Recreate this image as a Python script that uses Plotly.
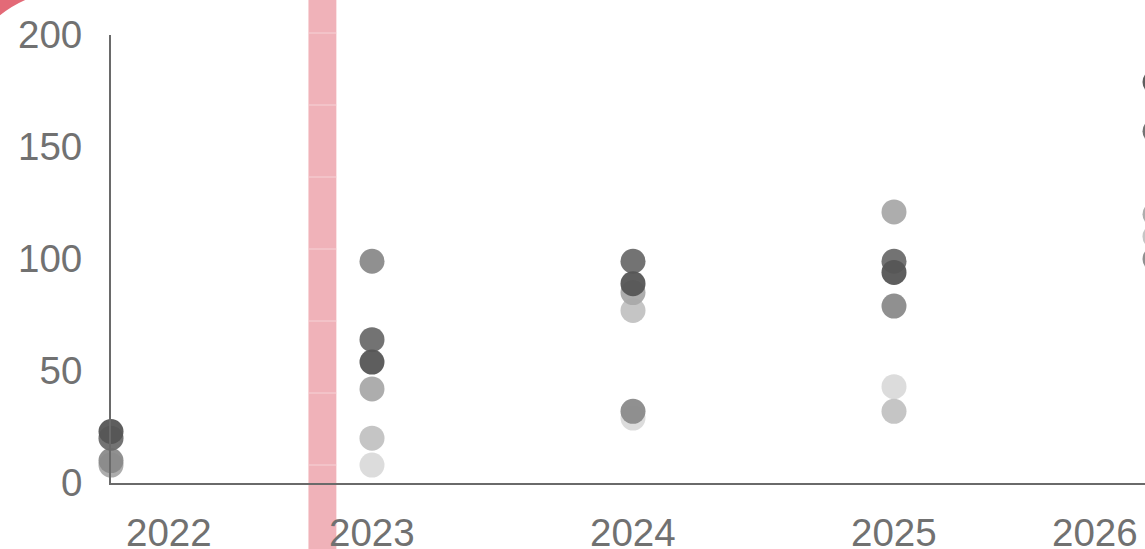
import plotly.graph_objects as go

# ---- data ----
years = [2022, 2023, 2024, 2025, 2026]
tick_labels = ["2022", "2023", "2024", "2025", "2026"]
y_ticks = [0, 50, 100, 150, 200]

series_a = [23, 54, 89, 94, 179]     # darkest
series_b = [20, 64, 99, 99, 157]
series_c = [10, 99, 32, 79, 100]
series_d = [8, 42, 85, 121, 120]
series_e = [None, 20, 77, 32, 110]
series_f = [None, 8, 29, 43, None]   # lightest

highlight_year = 2022.81
highlight_width = 0.107

# ---- layout geometry ----
W, H = 1185, 549          # figure is wider than the window; the window crops it
ML, MR, MT, MB = 111, 0, 35, 66
PX_PER_YEAR = 261.0
XMIN = 2022
XMAX = XMIN + (W - ML - MR) / PX_PER_YEAR
PLOT_H = H - MT - MB
PLOT_W = W - ML - MR

def px_to_paper_x(px):
    return (px - ML) / PLOT_W

def py_to_paper_y(py):
    return (H - MB - py) / PLOT_H

series = [
    (series_f, "#dadada"),
    (series_e, "#c2c2c2"),
    (series_d, "#a9a9a9"),
    (series_c, "#8a8a8a"),
    (series_b, "#6c6c6c"),
    (series_a, "#555555"),
]

FONT = "Liberation Sans, Arial, sans-serif"
TXT = "#717171"

fig = go.Figure()
for vals, col in series:
    fig.add_trace(go.Scatter(
        x=years, y=vals, mode="markers",
        marker=dict(size=25, color=col, opacity=0.95, line=dict(width=0)),
        cliponaxis=False, showlegend=False, hoverinfo="skip",
    ))

shapes = []
# pink vertical band
shapes.append(dict(type="rect", xref="x", yref="paper",
                   x0=highlight_year - highlight_width / 2, x1=highlight_year + highlight_width / 2,
                   y0=py_to_paper_y(H + 5), y1=py_to_paper_y(-5),
                   fillcolor="#f0b2b9", line=dict(width=0), layer="below"))
# faint light lines across the band
for py in [33, 105, 177, 249, 321, 393, 465]:
    shapes.append(dict(type="line", xref="x", yref="paper",
                       x0=highlight_year - highlight_width / 2, x1=highlight_year + highlight_width / 2,
                       y0=py_to_paper_y(py), y1=py_to_paper_y(py),
                       line=dict(color="#f6d3d7", width=1), layer="below"))
# red corner
p = lambda x, y: f"{px_to_paper_x(x):.5f},{py_to_paper_y(y):.5f}"
shapes.append(dict(type="path", xref="paper", yref="paper",
                   path=f"M {p(-2,-2)} L {p(30,-2)} Q {p(12,5)} {p(-2,17)} Z",
                   fillcolor="#e36a77", line=dict(width=0)))

annotations = []
label_y = py_to_paper_y(532)
for yr, lab in zip(years, tick_labels):
    if yr == years[0]:
        anchor, shift = "left", 13
    elif yr == years[-1]:
        anchor, shift = "right", -15
    else:
        anchor, shift = "center", 0
    annotations.append(dict(x=yr, y=label_y, xref="x", yref="paper",
                            text=lab, showarrow=False, xanchor=anchor, yanchor="middle",
                            xshift=shift,
                            font=dict(family=FONT, size=38.5, color=TXT)))

fig.update_layout(
    width=W, height=H,
    margin=dict(l=ML, r=MR, t=MT, b=MB),
    paper_bgcolor="white", plot_bgcolor="white",
    shapes=shapes, annotations=annotations,
    xaxis=dict(range=[XMIN, XMAX], showgrid=False, zeroline=False, showline=True,
               linecolor="#6a6a6a", linewidth=2, showticklabels=False, ticks=""),
    yaxis=dict(range=[0, 200], tickvals=y_ticks, ticktext=[str(v) for v in y_ticks],
               showgrid=False, zeroline=False, showline=True,
               linecolor="#6a6a6a", linewidth=2, ticks="", ticklabelstandoff=19,
               tickfont=dict(family=FONT, size=38.5, color=TXT)),
)

fig.write_html(
    "out.html",
    config={"displayModeBar": False, "staticPlot": True},
    post_script="document.body.style.margin='0';document.body.style.overflow='hidden';"
                "document.documentElement.style.overflow='hidden';",
)
